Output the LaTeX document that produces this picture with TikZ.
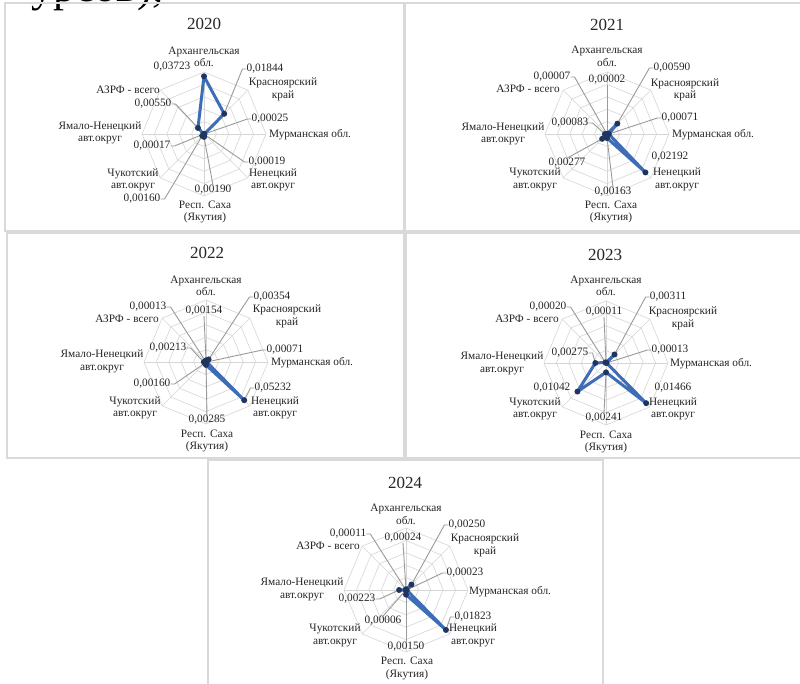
\documentclass[tikz,border=0pt]{standalone}
\usepackage{fontspec}
\setmainfont{Liberation Serif}
\definecolor{panelgray}{HTML}{D9D9D9}
\definecolor{gridgray}{HTML}{D6D6D6}
\definecolor{leadergray}{HTML}{9A9A9A}
\definecolor{seriesblue}{HTML}{3E6DB8}
\definecolor{markerblue}{HTML}{1F3560}
\definecolor{labelgray}{HTML}{262626}

% one radar frame: grid octagons, spokes and the data coordinates
% #1 id, #2 cx, #3 cy, #4 axis maximum, #5 eight values (in 1e-5 units)
\newcommand\radarplot[5]{%
  \begin{scope}[shift={(#2,#3)}]
    \foreach \k in {1,...,5}{
      \pgfmathsetmacro\rr{62*\k/5}
      \draw[ring] (0,-\rr) \foreach \a in {45,90,...,315}{ -- ({\rr*sin(\a)},{-\rr*cos(\a)}) } -- cycle;
    }
    \foreach \a in {0,45,...,315}
      \draw[ring] (0,0) -- ({62*sin(\a)},{-62*cos(\a)});
    \foreach \v [count=\i] in {#5}{
      \pgfmathsetmacro\rr{62*(\v/#4)}
      \coordinate (p#1-\i) at ({\rr*sin(45*(\i-1))},{-\rr*cos(45*(\i-1))});
    }
  \end{scope}
}
% the data polygon and its markers
\newcommand\radarseries[1]{%
  \draw[series] (p#1-1) \foreach \i in {2,...,8}{ -- (p#1-\i) } -- cycle;
  \foreach \i in {1,...,8} \node[dot] (m#1-\i) at (p#1-\i) {};
}
% leader lines from a value label to its data point
\newcommand\ldrW[2]{\draw[leader] (#1.west) -- ++(-4,0) -- (#2);}
\newcommand\ldrE[2]{\draw[leader] (#1.east) -- ++(4,0) -- (#2);}
\newcommand\ldrN[2]{\draw[leader] (#1.north) -- (#2);}
\newcommand\ldrS[2]{\draw[leader] (#1.south) -- (#2);}
% the eight category labels of one chart
\newcommand\radarcats[9]{%
  \node[cat] (c#1-1) at #2 {Архангельская\\обл.};
  \node[cat] (c#1-2) at #3 {Красноярский\\край};
  \node[cat] (c#1-3) at #4 {Мурманская обл.};
  \node[cat] (c#1-4) at #5 {Ненецкий\\авт.округ};
  \node[cat] (c#1-5) at #6 {Респ. Саха\\(Якутия)};
  \node[cat] (c#1-6) at #7 {Чукотский\\авт.округ};
  \node[cat] (c#1-7) at #8 {Ямало-Ненецкий\\авт.округ};
  \node[cat] (c#1-8) at #9 {АЗРФ - всего};
}

\begin{document}
\begin{tikzpicture}[x=1pt,y=-1pt,
  panel/.style={draw=panelgray,line width=1.6pt},
  ring/.style={draw=gridgray,line width=0.6pt},
  series/.style={draw=seriesblue,line width=3pt,line join=round},
  dot/.style={circle,fill=markerblue,inner sep=0pt,minimum size=6pt},
  leader/.style={draw=leadergray,line width=0.9pt},
  cat/.style={font=\fontsize{11.3}{12.5}\selectfont,text=labelgray,align=center,inner sep=0pt},
  val/.style={font=\fontsize{11.3}{12.5}\selectfont,text=labelgray,inner sep=0pt},
  ttl/.style={font=\fontsize{17}{19}\selectfont,text=labelgray,inner sep=0pt}]

\useasboundingbox (0,0) rectangle (800,684);
\fill[white] (0,0) rectangle (800,684);

% tail of the line of body text above the figure
\begin{scope}
  \clip (0,0) rectangle (800,12);
  \node[anchor=base west,inner sep=0pt,font=\fontsize{44}{44}\selectfont] (bodyline) at (31,1.5) {урсов),};
\end{scope}

% panel frames
\draw[panel] (5,3) rectangle (404,231);
\draw[panel] (405,3) rectangle (803,231);
\draw[panel] (7,233) rectangle (404,458);
\draw[panel] (406,233) rectangle (803,458);
\draw[panel] (208,460) rectangle (603,690);

% ---------------- 2020 ----------------
\radarplot{20}{204}{134}{4000}{3723,1844,25,19,190,160,17,550}
\node[ttl] (t20) at (204,24) {2020};
\radarcats{20}{(204,57)}{(283,89.5)}{(310,135)}{(273,180)}{(205,212)}{(133,180)}{(100,133)}{(128,90)}
\node[val] (v20-1) at (172,67) {0,03723};
\node[val] (v20-2) at (265,69) {0,01844};
\node[val] (v20-3) at (270,119) {0,00025};
\node[val] (v20-4) at (267,162) {0,00019};
\node[val] (v20-5) at (213,190) {0,00190};
\node[val] (v20-6) at (142,199) {0,00160};
\node[val] (v20-7) at (152,146) {0,00017};
\node[val] (v20-8) at (153,104) {0,00550};
\ldrW{v20-2}{p20-2} \ldrW{v20-3}{p20-3} \ldrW{v20-4}{p20-4}
\ldrN{v20-5}{p20-5} \ldrE{v20-6}{p20-6} \ldrE{v20-7}{p20-7} \ldrE{v20-8}{p20-8}
\radarseries{20}

% ---------------- 2021 ----------------
\radarplot{21}{607}{134}{2500}{2,590,71,2192,163,277,83,7}
\node[ttl] (t21) at (607,25) {2021};
\radarcats{21}{(607,56.5)}{(685,90)}{(713,135)}{(677,179.5)}{(611,212)}{(535,179.5)}{(503,134)}{(528,89)}
\node[val] (v21-1) at (607,80) {0,00002};
\node[val] (v21-2) at (672,68) {0,00590};
\node[val] (v21-3) at (680,118) {0,00071};
\node[val] (v21-4) at (670,157) {0,02192};
\node[val] (v21-5) at (613,192) {0,00163};
\node[val] (v21-6) at (567,163) {0,00277};
\node[val] (v21-7) at (570,123) {0,00083};
\node[val] (v21-8) at (552,77) {0,00007};
\ldrS{v21-1}{p21-1} \ldrW{v21-2}{p21-2} \ldrW{v21-3}{p21-3}
\ldrN{v21-5}{p21-5} \ldrN{v21-6}{p21-6} \ldrE{v21-7}{p21-7} \ldrE{v21-8}{p21-8}
\radarseries{21}

% ---------------- 2022 ----------------
\radarplot{22}{206}{362}{6000}{154,354,71,5232,285,160,213,13}
\node[ttl] (t22) at (207,253) {2022};
\radarcats{22}{(206,286)}{(287,316.5)}{(312,363)}{(275,408)}{(207,441)}{(135,408)}{(102,361.5)}{(127,319)}
\node[val] (v22-1) at (204,311) {0,00154};
\node[val] (v22-2) at (272,297) {0,00354};
\node[val] (v22-3) at (285,350) {0,00071};
\node[val] (v22-4) at (273,388) {0,05232};
\node[val] (v22-5) at (207,420) {0,00285};
\node[val] (v22-6) at (152,384) {0,00160};
\node[val] (v22-7) at (168,348) {0,00213};
\node[val] (v22-8) at (148,307) {0,00013};
\ldrS{v22-1}{p22-1} \ldrW{v22-2}{p22-2} \ldrW{v22-3}{p22-3} \ldrW{v22-4}{p22-4}
\ldrN{v22-5}{p22-5} \ldrE{v22-6}{p22-6} \ldrE{v22-7}{p22-7} \ldrE{v22-8}{p22-8}
\radarseries{22}

% ---------------- 2023 ----------------
\radarplot{23}{606}{363}{1600}{11,311,13,1466,241,1042,275,20}
\node[ttl] (t23) at (605,255) {2023};
\radarcats{23}{(606,286)}{(683,318.5)}{(711,364)}{(673,409)}{(606,442)}{(535,409)}{(502,363.5)}{(527,319)}
\node[val] (v23-1) at (604,312) {0,00011};
\node[val] (v23-2) at (668,297) {0,00311};
\node[val] (v23-3) at (670,350) {0,00013};
\node[val] (v23-4) at (673,388) {0,01466};
\node[val] (v23-5) at (604,418) {0,00241};
\node[val] (v23-6) at (552,388) {0,01042};
\node[val] (v23-7) at (570,353) {0,00275};
\node[val] (v23-8) at (548,307) {0,00020};
\ldrS{v23-1}{p23-1} \ldrW{v23-2}{p23-2} \ldrW{v23-3}{p23-3}
\ldrN{v23-5}{p23-5} \ldrE{v23-7}{p23-7} \ldrE{v23-8}{p23-8}
\radarseries{23}

% ---------------- 2024 ----------------
\radarplot{24}{406}{590}{2000}{24,250,23,1823,150,6,223,11}
\node[ttl] (t24) at (405,483) {2024};
\radarcats{24}{(406,514.5)}{(485,545.5)}{(510,592)}{(473,635.5)}{(407,668.5)}{(335,635.5)}{(302,589.5)}{(328,546)}
\node[val] (v24-1) at (403,538) {0,00024};
\node[val] (v24-2) at (467,525) {0,00250};
\node[val] (v24-3) at (465,573) {0,00023};
\node[val] (v24-4) at (473,617) {0,01823};
\node[val] (v24-5) at (406,647) {0,00150};
\node[val] (v24-6) at (383,621) {0,00006};
\node[val] (v24-7) at (357,599) {0,00223};
\node[val] (v24-8) at (348,534) {0,00011};
\ldrS{v24-1}{p24-1} \ldrW{v24-2}{p24-2} \ldrW{v24-3}{p24-3} \ldrW{v24-4}{p24-4}
\ldrN{v24-5}{p24-5} \ldrN{v24-6}{p24-6} \ldrE{v24-7}{p24-7} \ldrE{v24-8}{p24-8}
\radarseries{24}

\end{tikzpicture}
\end{document}
